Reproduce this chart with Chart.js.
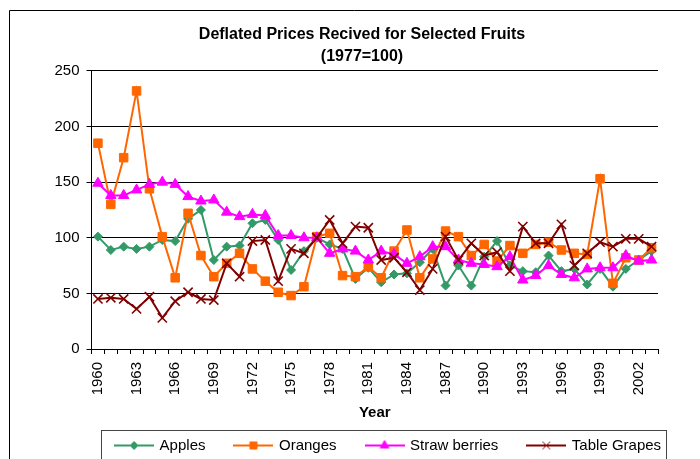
<!DOCTYPE html>
<html>
<head>
<meta charset="utf-8">
<title>Deflated Prices Recived for Selected Fruits</title>
<script src="https://cdn.jsdelivr.net/npm/chart.js@4/dist/chart.umd.min.js"></script>
<style>
  html, body { margin: 0; padding: 0; background: #fff; }
  #wrap { width: 700px; height: 459px; }
</style>
</head>
<body>
<div id="wrap"><canvas id="fruitChart" width="700" height="459"></canvas></div>
<script>
// Data (1977 = 100)
const years = [1960, 1961, 1962, 1963, 1964, 1965, 1966, 1967, 1968, 1969,
               1970, 1971, 1972, 1973, 1974, 1975, 1976, 1977, 1978, 1979,
               1980, 1981, 1982, 1983, 1984, 1985, 1986, 1987, 1988, 1989,
               1990, 1991, 1992, 1993, 1994, 1995, 1996, 1997, 1998, 1999,
               2000, 2001, 2002, 2003];
const tickYears = [1960, 1963, 1966, 1969, 1972, 1975, 1978, 1981, 1984, 1987, 1990, 1993, 1996, 1999, 2002];

const apples = [101, 89, 92, 90, 92, 98, 97, 117, 125, 80,
                92, 93, 113, 116, 98, 71, 88, 100, 94, 90,
                63, 73, 60, 67, 68, 78, 90, 57, 75, 57,
                83, 97, 75, 70, 69, 84, 70, 72, 58, 72,
                56, 72, 80, 88];
const oranges = [185, 130, 172, 232, 144, 101, 64, 122, 84, 65,
                 77, 86, 72, 61, 51, 48, 56, 101, 104, 66,
                 65, 74, 64, 88, 107, 64, 81, 106, 101, 84,
                 94, 79, 93, 86, 94, 96, 89, 86, 85, 153,
                 59, 82, 80, 91];
const strawberries = [149, 138, 138, 143, 148, 150, 148, 137, 133, 134,
                      123, 119, 121, 120, 102, 102, 100, 100, 86, 90,
                      88, 80, 88, 85, 77, 83, 92, 92, 80, 77,
                      76, 74, 83, 62, 66, 75, 67, 64, 72, 73,
                      73, 84, 79, 80];
const tableGrapes = [45, 46, 45, 36, 47, 28, 43, 51, 45, 44,
                     77, 65, 97, 98, 61, 90, 86, 100, 116, 95,
                     110, 109, 80, 82, 69, 53, 72, 101, 80, 95,
                     84, 87, 70, 110, 95, 95, 112, 75, 86, 96,
                     92, 99, 99, 92];

const seriesLabels = ['Apples', 'Oranges', 'Straw berries', 'Table Grapes'];
const yTicks = [0, 50, 100, 150, 200, 250];

Chart.defaults.font.family = "'Liberation Sans', Arial, sans-serif";
Chart.defaults.color = '#000';

// Legend icons: short line with the marker in the middle
const makeIcon = (color, style, radius) => {
    const c = document.createElement('canvas');
    c.width = 40;
    c.height = 14;
    const g = c.getContext('2d');
    g.strokeStyle = color;
    g.lineWidth = 2;
    g.beginPath();
    g.moveTo(0, 7);
    g.lineTo(40, 7);
    g.stroke();
    g.fillStyle = color;
    g.lineWidth = 1;
    Chart.helpers.drawPoint(g, { pointStyle: style, radius: radius, rotation: 0, borderWidth: 1 }, 20, 7);
    return c;
};

const makeSeries = (label, values, color, style, radius, order) => ({
    label: label,
    data: values,
    borderColor: color,
    backgroundColor: color,
    borderWidth: 2,
    tension: 0,
    pointStyle: style,
    pointRadius: radius,
    pointHoverRadius: radius,
    pointBorderWidth: style === 'crossRot' ? 1.6 : 1,
    pointBackgroundColor: color,
    pointBorderColor: color,
    order: order
});

const datasets = [
    makeSeries(seriesLabels[0], apples, '#339966', 'rectRot', 4.5, 4),
    makeSeries(seriesLabels[1], oranges, '#FF6600', 'rect', 6, 3),
    makeSeries(seriesLabels[2], strawberries, '#FF00FF', 'triangle', 6, 2),
    makeSeries(seriesLabels[3], tableGrapes, '#800000', 'crossRot', 6.5, 1)
];

const legendIcons = [
    makeIcon('#339966', 'rectRot', 4),
    makeIcon('#FF6600', 'rect', 5),
    makeIcon('#FF00FF', 'triangle', 5),
    makeIcon('#800000', 'crossRot', 5.5)
];

// Frame around the chart and the legend, legend nudged to the right
const framePlugin = {
    id: 'frame',
    afterLayout(chart) {
        chart.legend.left += 26.6;
        chart.legend.right += 26.6;
    },
    afterDraw(chart) {
        const ctx = chart.ctx;
        ctx.save();
        ctx.strokeStyle = '#000';
        ctx.lineWidth = 1;
        ctx.beginPath();
        ctx.moveTo(9.5, 459);
        ctx.lineTo(9.5, 10.5);
        ctx.lineTo(700, 10.5);
        ctx.stroke();
        ctx.strokeStyle = '#444';
        ctx.strokeRect(101.5, 430.5, 565, 40);
        ctx.restore();
    }
};

new Chart(document.getElementById('fruitChart'), {
    type: 'line',
    data: { labels: years, datasets: datasets },
    options: {
        responsive: false,
        animation: false,
        layout: { padding: { top: 14, left: 24, right: 0, bottom: 0 } },
        plugins: {
            title: {
                display: true,
                text: ['Deflated Prices Recived for Selected Fruits', '(1977=100)'],
                font: { size: 16, weight: 'bold', lineHeight: 1.34 },
                color: '#000',
                padding: { top: 10, bottom: 4 }
            },
            legend: {
                position: 'bottom',
                maxHeight: 51,
                labels: {
                    usePointStyle: true,
                    pointStyleWidth: 36,
                    padding: 30,
                    font: { size: 15 },
                    color: '#000',
                    generateLabels: chart => chart.data.datasets.map((ds, i) => ({
                        text: ds.label,
                        fillStyle: ds.backgroundColor,
                        strokeStyle: ds.borderColor,
                        lineWidth: 0,
                        pointStyle: legendIcons[i],
                        fontColor: '#000',
                        hidden: false,
                        datasetIndex: i
                    }))
                }
            },
            tooltip: { enabled: false }
        },
        scales: {
            x: {
                offset: true,
                grid: { offset: true, drawOnChartArea: false, drawTicks: true, tickLength: 5, color: '#000' },
                border: { color: '#000', width: 1 },
                ticks: {
                    autoSkip: false,
                    minRotation: 90,
                    maxRotation: 90,
                    padding: 8,
                    font: { size: 15 },
                    color: '#000',
                    callback: function(value, index) {
                        const yr = years[index];
                        return tickYears.includes(yr) ? String(yr) : '';
                    }
                },
                title: {
                    display: true,
                    text: 'Year',
                    font: { size: 15, weight: 'bold', lineHeight: 1.2 },
                    color: '#000',
                    padding: { top: 0, bottom: -13.5 }
                },
                afterFit: scale => { scale.height = 59; }
            },
            y: {
                min: yTicks[0],
                max: yTicks[yTicks.length - 1],
                afterBuildTicks: scale => { scale.ticks = yTicks.map(v => ({ value: v })); },
                grid: { color: '#000', tickLength: 5, drawTicks: true },
                border: { color: '#000', width: 1 },
                ticks: { padding: 7, font: { size: 15 }, color: '#000' },
                afterFit: scale => { scale.width = 67.5; }
            },
            spacer: {
                type: 'linear',
                position: 'right',
                display: true,
                grid: { display: false },
                border: { display: false },
                ticks: { display: false },
                afterFit: scale => { scale.width = 42; }
            }
        }
    },
    plugins: [framePlugin]
});
</script>
</body>
</html>
